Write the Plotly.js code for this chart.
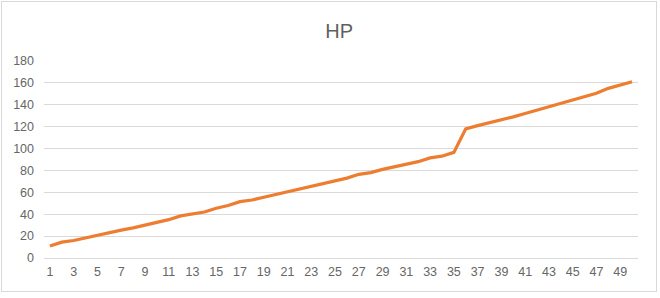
<!DOCTYPE html>
<html>
<head>
<meta charset="utf-8">
<script src="https://cdn.plot.ly/plotly-3.0.1.min.js"></script>
<style>
  html, body { margin: 0; padding: 0; background: #fff; }
  #wrap { position: relative; width: 660px; height: 298px; }
  #chart { width: 660px; height: 298px; }
  #frame { position: absolute; left: 1px; top: 1px; width: 654px; height: 289px; border: 1px solid #d9d9d9; pointer-events: none; }
</style>
</head>
<body>
<div id="wrap">
  <div id="chart"></div>
  <div id="frame"></div>
</div>
<script>
const chartTitle = "HP";
const categories = [1,2,3,4,5,6,7,8,9,10,11,12,13,14,15,16,17,18,19,20,21,22,23,24,25,26,27,28,29,30,31,32,33,34,35,36,37,38,39,40,41,42,43,44,45,46,47,48,49,50];
const hpValues = [11,14.5,16,18.5,20.5,23,25.5,27.5,30,33,35,38.5,40,42,45.5,48,51.5,53,55.5,58,61,63,66,68,71,73,76.5,78,81,83.5,86,88,91.5,93,96.5,118,121,123.5,126.5,129,132,135,138,141,144.5,147.5,150.5,155,158,161];
const xTickLabels = ["1","3","5","7","9","11","13","15","17","19","21","23","25","27","29","31","33","35","37","39","41","43","45","47","49"];
const yTicks = [0,20,40,60,80,100,120,140,160,180];

const trace = {
  x: categories,
  y: hpValues,
  type: 'scatter',
  mode: 'lines',
  line: { color: '#ED7D31', width: 3.25, shape: 'linear' },
  hoverinfo: 'x+y'
};

const layout = {
  width: 660,
  height: 298,
  paper_bgcolor: '#ffffff',
  plot_bgcolor: '#ffffff',
  margin: { l: 44, r: 22, t: 61, b: 40 },
  showlegend: false,
  title: {
    text: chartTitle,
    font: { family: 'Liberation Sans, Arial, sans-serif', size: 20, color: '#5f5f5f' },
    x: 0.497, xref: 'paper', xanchor: 'center',
    y: 0.897, yref: 'container', yanchor: 'middle'
  },
  xaxis: {
    type: 'linear',
    range: [0.5, 50.5],
    tickvals: xTickLabels.map(Number),
    ticktext: xTickLabels,
    showgrid: false,
    zeroline: false,
    showline: false,
    ticks: '',
    ticklabelstandoff: 4,
    tickfont: { family: 'Liberation Sans, Arial, sans-serif', size: 12.5, color: '#666666' },
    fixedrange: true
  },
  yaxis: {
    range: [0, 180],
    tickvals: yTicks,
    showgrid: true,
    gridcolor: '#d9d9d9',
    gridwidth: 1,
    zeroline: true,
    zerolinecolor: '#d9d9d9',
    zerolinewidth: 1,
    showline: false,
    ticks: '',
    ticklabelstandoff: 9,
    tickfont: { family: 'Liberation Sans, Arial, sans-serif', size: 12.5, color: '#666666' },
    fixedrange: true
  }
};

Plotly.newPlot('chart', [trace], layout, { displayModeBar: false, staticPlot: true });
</script>
</body>
</html>
